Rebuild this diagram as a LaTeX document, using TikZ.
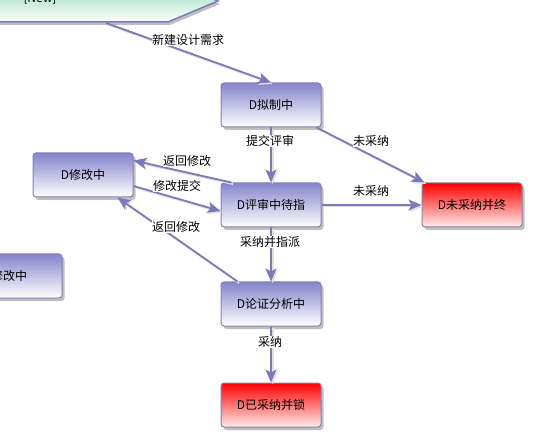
\documentclass[tikz,border=0pt]{standalone}
\usepackage{fontspec}
\newfontfamily\cjk{Noto Sans CJK SC}
\usetikzlibrary{shadows,arrows.meta}
\definecolor{edgec}{RGB}{122,122,184}
\definecolor{nodetop}{RGB}{132,132,204}
\definecolor{nodeborder}{RGB}{130,130,178}
\definecolor{greentop}{RGB}{140,216,178}
\definecolor{redbottom}{RGB}{255,236,236}
\begin{document}
\begin{tikzpicture}[x=1pt,y=-1pt,
  state/.style={draw=nodeborder, line width=1pt, rounded corners=3pt,
    minimum width=100pt, minimum height=44pt, inner sep=0pt,
    top color=nodetop, bottom color=white,
    drop shadow={shadow xshift=2.5pt, shadow yshift=-3pt, fill=black!25, opacity=1},
    font=\cjk\fontsize{12}{14}\selectfont},
  endstate/.style={state, top color=red, bottom color=redbottom},
  edge/.style={draw=edgec, line width=1.8pt,
    -{Stealth[length=13pt,width=11pt,inset=3pt]},
    preaction={draw=black!12, line width=2pt, transform canvas={xshift=1.5pt,yshift=-1.5pt}}},
  lbl/.style={fill=white, inner sep=0.5pt, font=\cjk\fontsize{12}{14}\selectfont}]
\useasboundingbox (0,0) rectangle (548,435);
\clip (0,0) rectangle (548,435);

% top (new) shape
\path[draw=edgec, line width=1.5pt, top color=greentop, bottom color=white,
  drop shadow={shadow xshift=2pt, shadow yshift=-3pt, fill=black!25, opacity=1}]
  (-10,22) -- (168,22) -- (218,1) -- (168,-20) -- (-10,-20) -- cycle;
\node[font=\cjk\fontsize{12}{14}\selectfont] (newtxt) at (40,-1) {\{New\}};
\coordinate (newout) at (106,23);

% states
\node[state] (nz) at (271,105) {D拟制中};
\node[state] (ps) at (271,205) {D评审中待指};
\node[endstate] (wc) at (472,205) {D未采纳并终};
\node[state] (xg) at (83,175) {D修改中};
\node[state, minimum width=114pt] (xg2) at (5,276) {D修改中};
\node[state] (lz) at (271,304) {D论证分析中};
\node[endstate] (ys) at (271,405) {D已采纳并锁};

% connectors
\draw[edge] (newout) -- (nz.north);
\draw[edge] (nz) -- (ps);
\draw[edge] ([xshift=-5pt]nz.south east) -- ([xshift=3pt]wc.north west);
\draw[edge] (ps) -- (wc);
\draw[edge] ([xshift=11pt]ps.north west) -- ([yshift=-8pt]xg.north east);
\draw[edge] ([yshift=-11pt]xg.east) -- ([yshift=-6pt]ps.west);
\draw[edge] ([xshift=17pt]lz.north west) -- ([xshift=-16pt]xg.south east);
\draw[edge] (ps) -- (lz);
\draw[edge] (lz) -- (ys);

% labels
\node[lbl] (l1) at (188,40) {新建设计需求};
\node[lbl] (l2) at (270,141) {提交评审};
\node[lbl] (l3) at (371,141) {未采纳};
\node[lbl] (l4) at (371,191) {未采纳};
\node[lbl] (l5) at (187,161) {返回修改};
\node[lbl] (l6) at (177,186) {修改提交};
\node[lbl] (l7) at (176,227) {返回修改};
\node[lbl] (l8) at (270,242) {采纳并指派};
\node[lbl] (l9) at (270,342) {采纳};
\end{tikzpicture}
\end{document}
